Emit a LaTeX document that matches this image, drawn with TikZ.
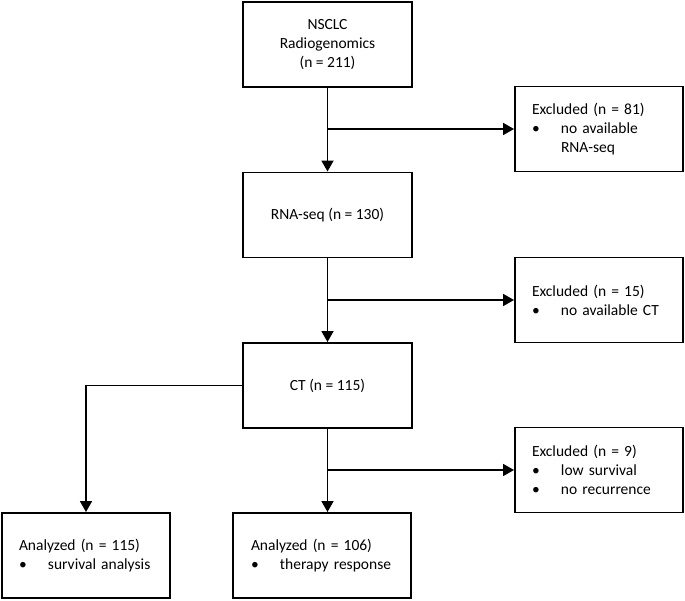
\documentclass[tikz,border=0pt]{standalone}
\usepackage{fontspec}
\setmainfont{Carlito}
\usetikzlibrary{arrows.meta}
\newcommand{\itm}[1]{\makebox[29pt][l]{\textbullet}#1}
\begin{document}
\begin{tikzpicture}[x=1pt,y=-1pt,
  box/.style={draw, line width=1.9pt, rectangle, inner sep=0pt, minimum height=85pt, font=\fontsize{15.5}{19}\selectfont},
  mainbox/.style={box, minimum width=169pt, align=center},
  sidebox/.style={box, text width=134pt, inner xsep=17pt, minimum width=168pt, align=left},
  conn/.style={line width=1.8pt},
  arr/.style={conn, -{Triangle[width=12pt,length=11pt]}}]
\useasboundingbox (0,0) rectangle (685,601);
\node[mainbox] (nsclc) at (327.5,44.5) {NSCLC\\Radiogenomics\\(n = 211)};
\node[mainbox] (rna) at (327.5,215) {RNA-seq (n = 130)};
\node[mainbox] (ct) at (327.5,385.5) {CT (n = 115)};
\node[sidebox] (ex1) at (599,129) {Excluded (n = 81)\\\itm{no available}\\\hspace*{29pt}RNA-seq};
\node[sidebox] (ex2) at (599,300) {Excluded (n = 15)\\\itm{no available CT}};
\node[sidebox] (ex3) at (599,470) {Excluded (n = 9)\\\itm{low survival}\\\itm{no recurrence}};
\node[sidebox] (an1) at (86,555.5) {Analyzed (n = 115)\\\itm{survival analysis}};
\node[sidebox, text width=142pt, inner xsep=18pt, minimum width=178pt] (an2) at (322,555.5) {Analyzed (n = 106)\\\itm{therapy response}};
\coordinate (b1) at (nsclc.south |- ex1.west);
\coordinate (b2) at (rna.south |- ex2.west);
\coordinate (b3) at (ct.south |- ex3.west);
\coordinate (a2) at (ct.south |- an2.north);
\coordinate (c1) at (an1.north |- ct.west);
\draw[arr] (nsclc.south) -- (rna.north);
\draw[arr] (b1) -- (ex1.west);
\draw[arr] (rna.south) -- (ct.north);
\draw[arr] (b2) -- (ex2.west);
\draw[arr] (ct.south) -- (a2);
\draw[arr] (b3) -- (ex3.west);
\draw[arr] (ct.west) -- (c1) -- (an1.north);
\end{tikzpicture}
\end{document}
